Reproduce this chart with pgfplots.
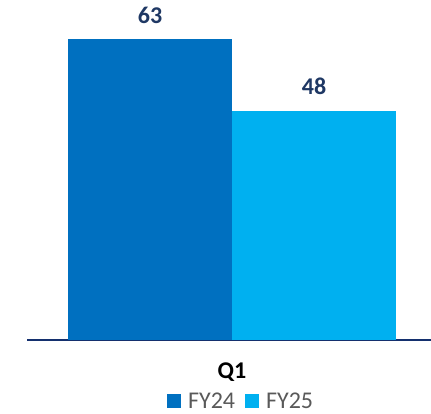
\documentclass[border=0pt]{standalone}
\usepackage{pgfplots}
\pgfplotsset{compat=1.18}
\usepackage{fontspec}
\setmainfont{Carlito}
\definecolor{cFY24}{HTML}{0070C0}
\definecolor{cFY25}{HTML}{00B0F0}
\definecolor{navy}{HTML}{1F3864}
\definecolor{axisnavy}{HTML}{14306E}
\definecolor{leggray}{HTML}{595959}
\begin{document}
\begin{tikzpicture}[x=1pt,y=1pt]
\useasboundingbox (0,0) rectangle (431,414);
\begin{axis}[
  at={(27pt,74pt)}, anchor=south west,
  scale only axis, width=404pt, height=340pt,
  xmin=-205, xmax=199, ymin=0, ymax=71.16,
  enlargelimits=false, clip=false,
  ybar=0pt, bar width=164pt,
  axis x line*=bottom, axis y line=none,
  x axis line style={draw=axisnavy, line width=1.3pt, -},
  xtick={0}, xticklabels={Q1}, major tick length=0pt,
  xticklabel style={font=\bfseries\fontsize{24}{26}\selectfont, text=black, yshift=-19pt},
  /pgf/number format/assume math mode=true,
  nodes near coords,
  every node near coord/.append style={font=\bfseries\fontsize{24}{26}\selectfont, text=navy, yshift=12pt},
  legend columns=2,
  legend style={at={(rel axis cs:0.53,-0.18)}, anchor=center, draw=none, fill=none,
    font=\fontsize{24}{26}\selectfont, text=leggray,
    /tikz/every even column/.append style={column sep=8pt}},
  legend image code/.code={\fill[#1,draw=none] (0pt,-7pt) rectangle (14pt,7pt);},
]
\addplot[fill=cFY24, draw=none] coordinates {(0,63)};
\addplot[fill=cFY25, draw=none] coordinates {(0,48)};
\legend{\hspace{5pt}FY24, \hspace{5pt}FY25}
\end{axis}
\end{tikzpicture}
\end{document}
